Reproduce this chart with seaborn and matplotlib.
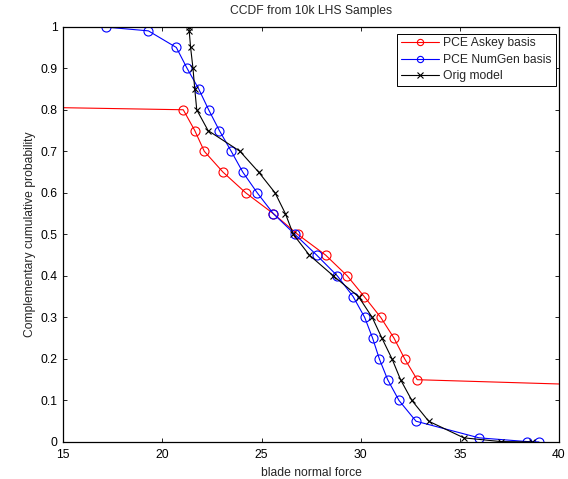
import matplotlib
matplotlib.use("Agg")
import matplotlib.pyplot as plt
import seaborn as sns
import pandas as pd

# Exceedance probability levels and corresponding blade normal force quantiles
askey_force = [-40.0, 21.05, 21.63, 22.11, 23.05, 24.20, 25.59, 26.82, 28.23,
               29.32, 30.18, 31.01, 31.68, 32.22, 32.85, 67.6]
askey_prob = [0.85, 0.80, 0.75, 0.70, 0.65, 0.60, 0.55, 0.50, 0.45,
              0.40, 0.35, 0.30, 0.25, 0.20, 0.15, 0.10]

numgen_force = [10.0, 17.15, 19.29, 20.70, 21.24, 21.83, 22.33, 22.87, 23.47,
                24.05, 24.78, 25.59, 26.68, 27.78, 28.82, 29.62, 30.20, 30.60,
                30.94, 31.36, 31.93, 32.79, 35.97, 38.40, 38.99]
numgen_prob = [0.9999, 0.999, 0.99, 0.95, 0.90, 0.85, 0.80, 0.75, 0.70,
               0.65, 0.60, 0.55, 0.50, 0.45, 0.40, 0.35, 0.30, 0.25,
               0.20, 0.15, 0.10, 0.05, 0.01, 0.001, 0.0001]

orig_force = [21.35, 21.35, 21.42, 21.54, 21.63, 21.73, 22.30, 23.91, 24.85,
              25.68, 26.20, 26.60, 27.41, 28.62, 29.89, 30.58, 31.07, 31.58,
              32.01, 32.58, 33.43, 35.20, 37.07, 38.62]
orig_prob = [0.999, 0.99, 0.95, 0.90, 0.85, 0.80, 0.75, 0.70, 0.65,
             0.60, 0.55, 0.50, 0.45, 0.40, 0.35, 0.30, 0.25, 0.20,
             0.15, 0.10, 0.05, 0.01, 0.001, 0.0001]

series_names = ["PCE Askey basis", "PCE NumGen basis", "Orig model"]

sns.set_style("ticks")
plt.rcParams["font.family"] = ["Liberation Sans", "DejaVu Sans"]
plt.rcParams["xtick.direction"] = "in"
plt.rcParams["ytick.direction"] = "in"

fig = plt.figure(figsize=(5.68, 4.79), dpi=100)
ax = fig.add_axes([63.3 / 568, 1 - 442 / 479, (559 - 63.3) / 568, (442 - 26.7) / 479])

fs = 8.7
common = dict(sort=False, estimator=None, linewidth=0.8, ax=ax)

df_a = pd.DataFrame({"force": askey_force, "prob": askey_prob})
df_n = pd.DataFrame({"force": numgen_force, "prob": numgen_prob})
df_o = pd.DataFrame({"force": orig_force, "prob": orig_prob})

sns.lineplot(data=df_a, x="force", y="prob", color="#ff0000", marker="o",
             markersize=6.5, markerfacecolor="none", markeredgecolor="#ff0000",
             markeredgewidth=0.8, label=series_names[0], **common)
sns.lineplot(data=df_n, x="force", y="prob", color="#0000ff", marker="o",
             markersize=6.5, markerfacecolor="none", markeredgecolor="#0000ff",
             markeredgewidth=0.8, label=series_names[1], **common)
sns.lineplot(data=df_o, x="force", y="prob", color="#000000", marker="x",
             markersize=5, markeredgecolor="#000000", markeredgewidth=0.8,
             label=series_names[2], **common)

ax.set_xlim(15, 40)
ax.set_ylim(0, 1)
ax.set_xticks([15, 20, 25, 30, 35, 40])
ax.set_yticks([0, 0.1, 0.2, 0.3, 0.4, 0.5, 0.6, 0.7, 0.8, 0.9, 1.0])
ax.set_yticklabels(["0", "0.1", "0.2", "0.3", "0.4", "0.5", "0.6", "0.7", "0.8", "0.9", "1"])
ax.tick_params(axis="both", which="both", direction="in", length=3, width=0.6,
               labelsize=fs, top=True, right=True, colors="black")
ax.tick_params(axis="x", pad=5)
ax.tick_params(axis="y", pad=4)
for s in ax.spines.values():
    s.set_visible(True)
    s.set_linewidth(0.9)
    s.set_color("black")

ax.set_xlabel("blade normal force", fontsize=fs, labelpad=4)
ax.set_ylabel("Complementary cumulative probability", fontsize=fs, labelpad=3)
ax.set_title("CCDF from 10k LHS Samples", fontsize=fs, pad=9)

leg = ax.legend(loc="upper right", fontsize=fs, frameon=True, fancybox=False,
                edgecolor="black", framealpha=1, handlelength=3.2,
                borderaxespad=0.0, borderpad=0.3, labelspacing=0.36,
                handletextpad=0.35, bbox_to_anchor=(0.993, 0.983))
leg.get_frame().set_linewidth(0.7)
for h in leg.legend_handles:
    h.set_markersize(4.5)

fig.savefig("out.png", dpi=100)
